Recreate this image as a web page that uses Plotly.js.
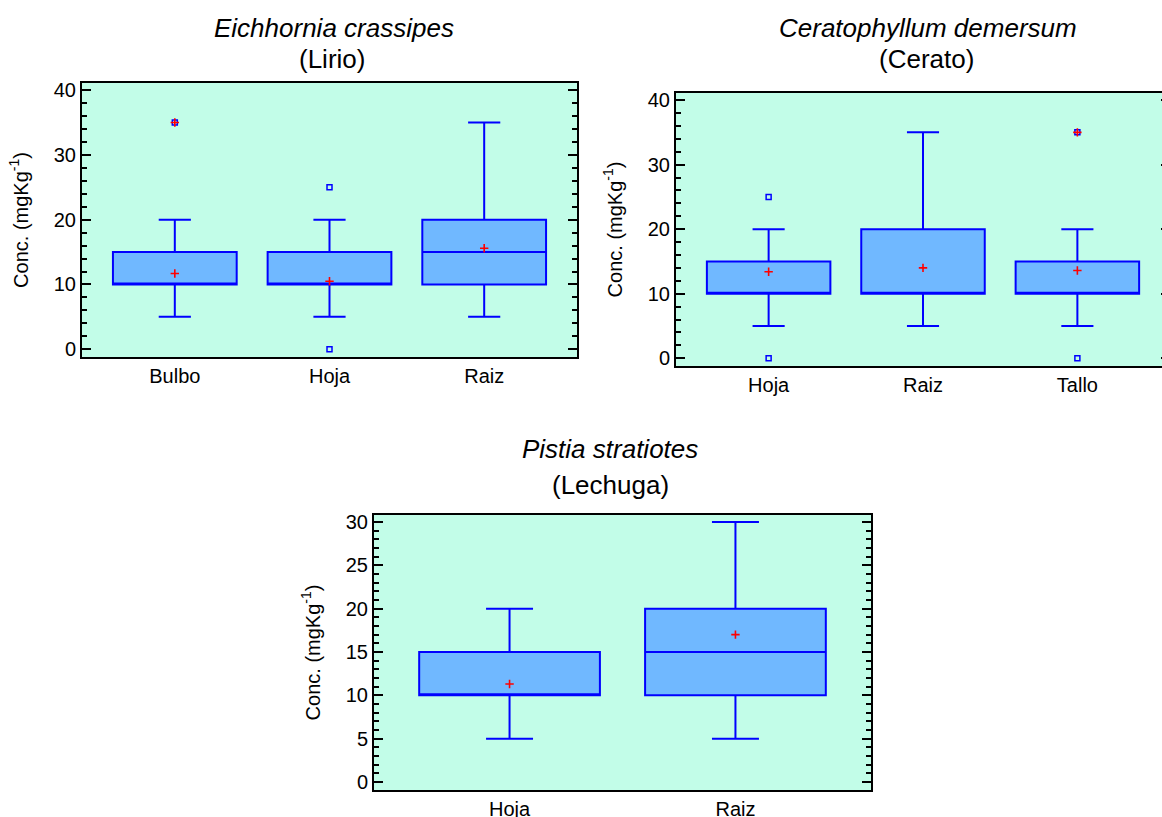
<!DOCTYPE html>
<html>
<head>
<meta charset="utf-8">
<script src="https://cdn.plot.ly/plotly-3.0.1.min.js"></script>
<style>
html, body { margin: 0; padding: 0; background: #ffffff; overflow: hidden; }
#chart { width: 1175px; height: 817px; }
</style>
</head>
<body>
<div id="chart"></div>
<script>
// ---- Data: Eichhornia crassipes (Lirio) ----
const lirioCats = ['Bulbo', 'Hoja', 'Raiz'];
const lirioQ1 = [10, 10, 10];
const lirioMedian = [10, 10, 15];
const lirioQ3 = [15, 15, 20];
const lirioLow = [5, 5, 5];
const lirioHigh = [20, 20, 35];
const lirioMean = [11.7, 10.5, 15.6];
const lirioOutX = ['Hoja', 'Hoja'];
const lirioOutY = [25, 0];
const lirioFarX = ['Bulbo'];
const lirioFarY = [35];

// ---- Data: Ceratophyllum demersum (Cerato) ----
const ceratoCats = ['Hoja', 'Raiz', 'Tallo'];
const ceratoQ1 = [10, 10, 10];
const ceratoMedian = [10, 10, 10];
const ceratoQ3 = [15, 20, 15];
const ceratoLow = [5, 5, 5];
const ceratoHigh = [20, 35, 20];
const ceratoMean = [13.4, 14.0, 13.6];
const ceratoOutX = ['Hoja', 'Hoja', 'Tallo'];
const ceratoOutY = [25, 0, 0];
const ceratoFarX = ['Tallo'];
const ceratoFarY = [35];

// ---- Data: Pistia stratiotes (Lechuga) ----
const lechugaCats = ['Hoja', 'Raiz'];
const lechugaQ1 = [10, 10];
const lechugaMedian = [10, 15];
const lechugaQ3 = [15, 20];
const lechugaLow = [5, 5];
const lechugaHigh = [20, 30];
const lechugaMean = [11.3, 17.0];

const yTitle = 'Conc. (mgKg<sup>-1</sup>)';

// ---- Styling ----
const FONT = 'Liberation Sans, Arial, Helvetica, sans-serif';
const BLUE = '#0000ff';
const FILL = '#70b8ff';
const BG = '#c2fde8';
const W = 1175, H = 817;

function boxTrace(cats, q1, med, q3, lo, hi, xa, ya) {
  return {
    type: 'box', x: cats, q1: q1, median: med, q3: q3,
    lowerfence: lo, upperfence: hi,
    width: 0.8, whiskerwidth: 0.26,
    fillcolor: FILL, line: { color: BLUE, width: 2 },
    boxpoints: false, hoverinfo: 'skip', showlegend: false,
    xaxis: xa, yaxis: ya
  };
}
function meanTrace(cats, vals, xa, ya) {
  return {
    type: 'scatter', mode: 'markers', x: cats, y: vals,
    marker: { symbol: 'cross-thin', size: 6, color: 'red', line: { color: 'red', width: 1.6 } },
    hoverinfo: 'skip', showlegend: false, xaxis: xa, yaxis: ya
  };
}
function outTrace(xs, ys, xa, ya) {
  return {
    type: 'scatter', mode: 'markers', x: xs, y: ys,
    marker: { symbol: 'square-open', size: 5, color: BLUE, line: { color: BLUE, width: 1.5 } },
    hoverinfo: 'skip', showlegend: false, xaxis: xa, yaxis: ya
  };
}

const data = [
  boxTrace(lirioCats, lirioQ1, lirioMedian, lirioQ3, lirioLow, lirioHigh, 'x', 'y'),
  outTrace(lirioOutX, lirioOutY, 'x', 'y'),
  outTrace(lirioFarX, lirioFarY, 'x', 'y'),
  meanTrace(lirioFarX, lirioFarY, 'x', 'y'),
  meanTrace(lirioCats, lirioMean, 'x', 'y'),

  boxTrace(ceratoCats, ceratoQ1, ceratoMedian, ceratoQ3, ceratoLow, ceratoHigh, 'x2', 'y2'),
  outTrace(ceratoOutX, ceratoOutY, 'x2', 'y2'),
  outTrace(ceratoFarX, ceratoFarY, 'x2', 'y2'),
  meanTrace(ceratoFarX, ceratoFarY, 'x2', 'y2'),
  meanTrace(ceratoCats, ceratoMean, 'x2', 'y2'),

  boxTrace(lechugaCats, lechugaQ1, lechugaMedian, lechugaQ3, lechugaLow, lechugaHigh, 'x3', 'y3'),
  meanTrace(lechugaCats, lechugaMean, 'x3', 'y3')
];

function xAxis(cats, x0, x1, anchor) {
  return {
    type: 'category', categoryarray: cats, categoryorder: 'array',
    domain: [x0 / W, x1 / W], anchor: anchor,
    range: [-0.6, cats.length - 0.4],
    showline: true, mirror: true, linecolor: 'black', linewidth: 2,
    ticks: '', showgrid: false, zeroline: false, fixedrange: true,
    tickfont: { family: FONT, size: 20, color: 'black' }
  };
}
function yAxis(top, bottom, range, dtick, minorDtick, anchor) {
  return {
    domain: [1 - bottom / H, 1 - top / H], anchor: anchor,
    range: range, tick0: 0, dtick: dtick,
    ticks: 'inside', ticklen: 9, tickwidth: 2, tickcolor: 'black',
    minor: { dtick: minorDtick, tick0: 0, ticks: 'inside', ticklen: 5, tickwidth: 2, tickcolor: 'black', showgrid: false },
    showline: true, mirror: 'ticks', linecolor: 'black', linewidth: 2,
    showgrid: false, zeroline: false, fixedrange: true,
    tickfont: { family: FONT, size: 20, color: 'black' },
    title: { text: yTitle, font: { family: FONT, size: 20, color: 'black' }, standoff: 20 }
  };
}

function ann(text, xpx, ypx, italic) {
  return {
    xref: 'paper', yref: 'paper', x: xpx / W, y: 1 - ypx / H,
    xanchor: 'center', yanchor: 'middle', showarrow: false,
    text: text,
    font: { family: FONT, size: 26, color: 'black', style: italic ? 'italic' : 'normal' }
  };
}

const layout = {
  width: W, height: H,
  margin: { l: 0, r: 0, t: 0, b: 0 },
  paper_bgcolor: 'white', plot_bgcolor: BG,
  showlegend: false,
  font: { family: FONT, color: 'black' },
  xaxis: xAxis(lirioCats, 82, 577, 'y'),
  yaxis: yAxis(83, 357, [-1.2, 41.1], 10, 2, 'x'),
  xaxis2: xAxis(ceratoCats, 676, 1170, 'y2'),
  yaxis2: yAxis(93, 366, [-1.2, 41.1], 10, 2, 'x2'),
  xaxis3: xAxis(lechugaCats, 374, 871, 'y3'),
  yaxis3: yAxis(515, 790, [-0.92, 30.8], 5, 1, 'x3'),
  annotations: [
    ann('Eichhornia crassipes', 334, 28, true),
    ann('(Lirio)', 332, 59, false),
    ann('Ceratophyllum demersum', 928, 28, true),
    ann('(Cerato)', 926, 59, false),
    ann('Pistia stratiotes', 610, 449, true),
    ann('(Lechuga)', 610, 485, false)
  ]
};

Plotly.newPlot('chart', data, layout, { staticPlot: true, displayModeBar: false });
</script>
</body>
</html>
